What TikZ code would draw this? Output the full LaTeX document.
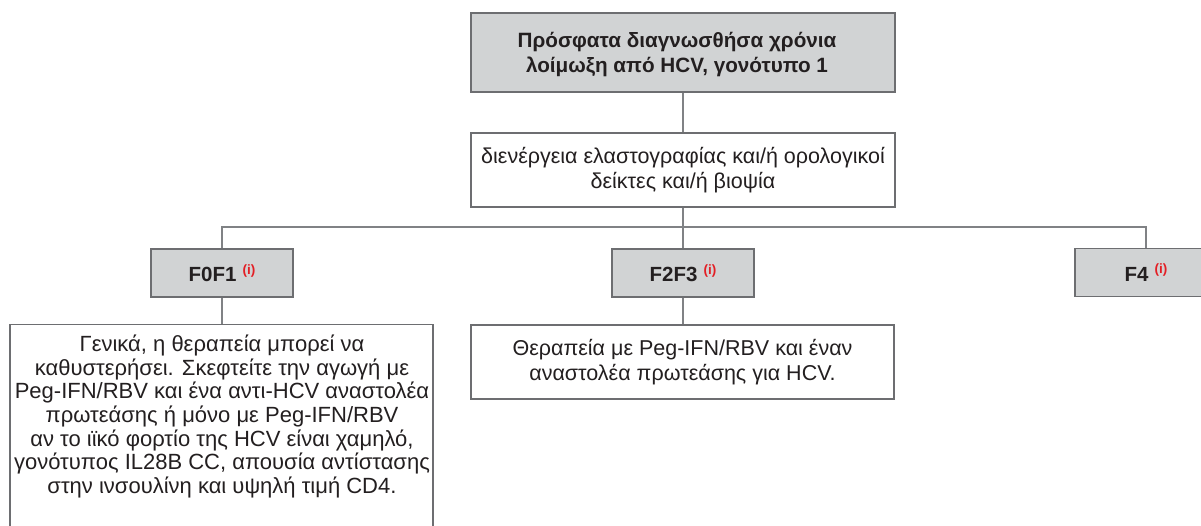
\documentclass[tikz,border=0pt]{standalone}
\usepackage{fontspec}
\setmainfont{Liberation Sans}
\definecolor{boxgray}{HTML}{D1D3D4}
\definecolor{edgegray}{HTML}{6D6E71}
\definecolor{linegray}{HTML}{808285}
\definecolor{inkdark}{HTML}{231F20}
\definecolor{notered}{HTML}{E31E24}
\tikzset{
  base/.style={draw=edgegray, line width=1.2pt, inner sep=0pt, text=inkdark,
    align=center, font=\fontsize{21.5}{24.5}\selectfont},
  headbox/.style={base, fill=boxgray, font=\fontsize{20.7}{25}\selectfont\bfseries},
  stagebox/.style={base, fill=boxgray, font=\fontsize{20.5}{24}\selectfont\bfseries,
    minimum width=142pt, minimum height=48pt},
  infobox/.style={base, fill=white},
  link/.style={draw=linegray, line width=1.2pt},
}
\newcommand{\noteref}{\hspace{6pt}\raisebox{7.5pt}{\textcolor{notered}{\fontsize{13.5}{15}\selectfont\bfseries(i)}}}
\begin{document}
\begin{tikzpicture}[x=1pt,y=-1pt]
  \useasboundingbox (0,0) rectangle (1201,525);
  \clip (0,0) rectangle (1201,525);
  % top: diagnosis
  \node[headbox, minimum width=424pt, minimum height=79pt] (diag) at (683,52.5) {};
  \node[text=inkdark, align=center, font=\fontsize{20.7}{25}\selectfont\bfseries,
    inner sep=0pt] (diagtext) at (677,55)
    {Πρόσφατα διαγνωσθήσα χρόνια\\λοίμωξη από HCV, γονότυπο 1};
  % assessment
  \node[infobox, minimum width=424pt, minimum height=74pt] (assess) at (683,170)
    {διενέργεια ελαστογραφίας και/ή ορολογικοί\\δείκτες και/ή βιοψία};
  % fibrosis stages
  \node[stagebox] (f01) at (222,273) {F0F1\noteref};
  \node[stagebox] (f23) at (683,273) {F2F3\noteref};
  \node[stagebox] (f4)  at (1146,272.5) {F4\noteref};
  % recommendations
  \node[infobox, minimum width=423pt, minimum height=210pt, anchor=north] (rec01) at (221.5,324)
    {};
  \node[text=inkdark, align=center, font=\fontsize{22}{23.6}\selectfont, anchor=north,
    inner sep=0pt] (rec01text) at (222,335)
    {Γενικά, η θεραπεία μπορεί να\\
     καθυστερήσει. Σκεφτείτε την αγωγή με\\
     Peg-IFN/RBV και ένα αντι-HCV αναστολέα\\
     πρωτεάσης ή μόνο με Peg-IFN/RBV\\
     αν το ιϊκό φορτίο της HCV είναι χαμηλό,\\
     γονότυπος IL28B CC, απουσία αντίστασης\\
     στην ινσουλίνη και υψηλή τιμή CD4.};
  \node[infobox, minimum width=423pt, minimum height=74pt] (rec23) at (682.5,362)
    {Θεραπεία με Peg-IFN/RBV και έναν\\αναστολέα πρωτεάσης για HCV.};
  % connectors
  \coordinate (bus) at (683,227);
  \draw[link] (diag.south) -- (assess.north);
  \draw[link] (assess.south) -- (bus);
  \draw[link] (f01.north) |- (bus) -| (f4.north);
  \draw[link] (bus) -- (f23.north);
  \draw[link] (f01.south) -- (rec01.north -| f01.south);
  \draw[link] (f23.south) -- (rec23.north -| f23.south);
\end{tikzpicture}
\end{document}
